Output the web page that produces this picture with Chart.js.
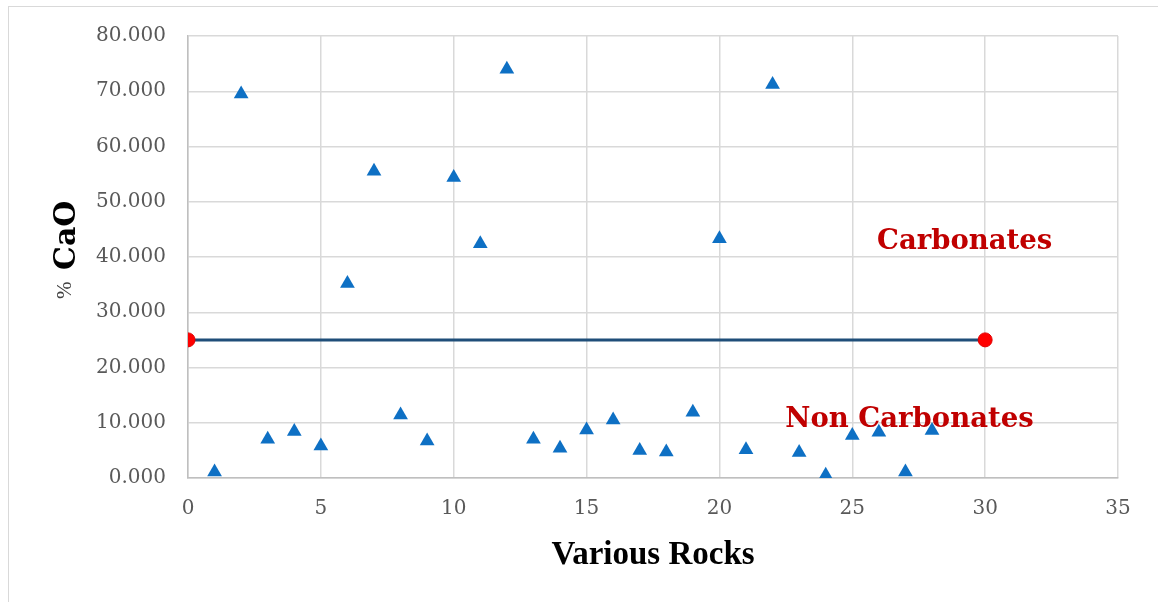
<!DOCTYPE html>
<html>
<head>
<meta charset="utf-8">
<script src="https://cdn.jsdelivr.net/npm/chart.js@4.4.1/dist/chart.umd.min.js"></script>
<style>
    html, body { margin: 0; padding: 0; background: #fff; }
    #wrap { position: relative; width: 1158px; height: 602px; overflow: hidden; }
    #frame { position: absolute; left: 8px; top: 6px; width: 1200px; height: 640px; border: 1.5px solid #d9d9d9; }
    canvas { position: absolute; left: 0; top: 0; }
</style>
</head>
<body>
<div id="wrap">
    <div id="frame"></div>
    <canvas id="cao" width="1158" height="602"></canvas>
</div>
<script>
// ============================================
// % CaO in various rocks — scatter with 25% cut-off line
// ============================================

const ROCK_NUMBERS = [1, 2, 3, 4, 5, 6, 7, 8, 9, 10, 11, 12, 13, 14,
    15, 16, 17, 18, 19, 20, 21, 22, 23, 24, 25, 26, 27, 28];
const CAO_PERCENT = [1.1, 69.5, 7.0, 8.4, 5.8, 35.2, 55.5, 11.4, 6.7, 54.4, 42.4, 74.0, 7.0, 5.4,
    8.7, 10.5, 5.0, 4.7, 11.9, 43.3, 5.1, 71.2, 4.6, 0.5, 7.7, 8.3, 1.1, 8.6];

const CUTOFF_X = [0, 30];
const CUTOFF_Y = [25, 25];

const X_TICKS = [0, 5, 10, 15, 20, 25, 30, 35];
const Y_TICKS = [0, 10, 20, 30, 40, 50, 60, 70, 80];

// labels placed in data units (left edge, baseline)
const REGION_LABELS = [
    { text: 'Carbonates', x: 25.93, y: 41.4 },
    { text: 'Non Carbonates', x: 22.48, y: 9.2 },
];

const GRID = '#d9d9d9';
const TICK = '#595959';

const labelsPlugin = {
    id: 'labelsPlugin',
    afterDatasetsDraw(chart) {
        const { ctx, scales } = chart;
        ctx.save();
        ctx.fillStyle = '#c00000';
        ctx.font = 'bold 27.5px "DejaVu Serif"';
        ctx.textBaseline = 'alphabetic';
        ctx.textAlign = 'left';
        REGION_LABELS.forEach(l => {
            ctx.fillText(l.text, scales.x.getPixelForValue(l.x), scales.y.getPixelForValue(l.y));
        });

        // axis titles
        ctx.fillStyle = '#000';
        ctx.font = 'bold 33px "Liberation Serif"';
        ctx.textAlign = 'center';
        const cx = (chart.chartArea.left + chart.chartArea.right) / 2;
        ctx.fillText('Various Rocks', cx, 564);

        ctx.rotate(-Math.PI / 2);
        ctx.textAlign = 'left';
        ctx.fillStyle = '#404040';
        ctx.font = '21px "Liberation Serif"';
        ctx.fillText('%', -299, 71);
        ctx.fillStyle = '#000';
        ctx.font = 'bold 30px "DejaVu Serif"';
        ctx.fillText('CaO', -270, 75);
        ctx.restore();
    }
};

new Chart(document.getElementById('cao'), {
    type: 'scatter',
    data: {
        datasets: [
            {
                label: 'Cut-off',
                data: CUTOFF_X.map((x, i) => ({ x, y: CUTOFF_Y[i] })),
                showLine: true,
                borderColor: '#1f4e79',
                borderWidth: 3,
                pointRadius: 7,
                pointBackgroundColor: '#ff0000',
                pointBorderColor: '#e00000',
                pointBorderWidth: 1,
                order: 2,
            },
            {
                label: '% CaO',
                data: ROCK_NUMBERS.map((x, i) => ({ x, y: CAO_PERCENT[i] })),
                pointStyle: 'triangle',
                pointRadius: 8.5,
                backgroundColor: '#0e70c4',
                borderColor: '#0e70c4',
                borderWidth: 0,
                order: 1,
            }
        ]
    },
    options: {
        responsive: false,
        animation: false,
        layout: { padding: { left: 0, top: 36, right: 40, bottom: 0 } },
        plugins: {
            legend: { display: false },
            tooltip: { enabled: false },
        },
        scales: {
            x: {
                type: 'linear',
                min: 0, max: 35,
                afterBuildTicks: s => { s.ticks = X_TICKS.map(v => ({ value: v })); },
                afterFit: s => { s.height = 124; },
                grid: { color: GRID, lineWidth: 1.5, drawTicks: false },
                border: { color: '#bfbfbf', width: 1.5 },
                ticks: { color: TICK, padding: 19, font: { family: 'DejaVu Serif', size: 20 } },
            },
            y: {
                min: 0, max: 80,
                afterBuildTicks: s => { s.ticks = Y_TICKS.map(v => ({ value: v })); },
                afterFit: s => { s.width = 188; },
                grid: { color: GRID, lineWidth: 1.5, drawTicks: false },
                border: { color: '#bfbfbf', width: 1.5 },
                ticks: {
                    color: TICK, padding: 22,
                    font: { family: 'DejaVu Serif', size: 20 },
                    callback: v => v.toFixed(3),
                },
            }
        }
    },
    plugins: [labelsPlugin]
});
</script>
</body>
</html>
